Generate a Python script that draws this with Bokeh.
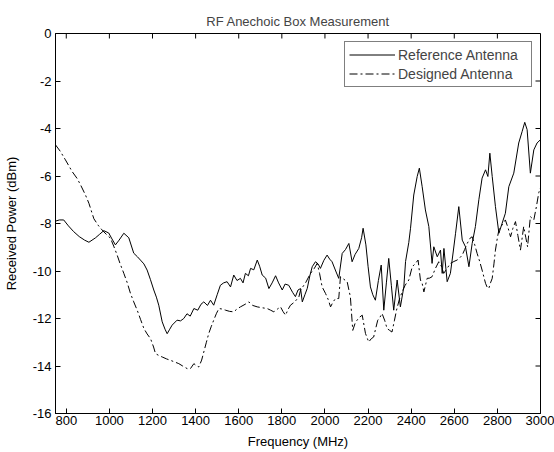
from bokeh.plotting import figure
from bokeh.models import FixedTicker, Range1d, Legend, LegendItem
from bokeh.embed import file_html
from bokeh.resources import INLINE

# ---- data ----
ref_freq = [750, 768, 788, 810, 834, 860, 885, 905, 936, 955, 974, 997, 1012, 1028, 1045,
            1067, 1090, 1113, 1130, 1144, 1160, 1175, 1190, 1206, 1218, 1229, 1245, 1258,
            1268, 1280, 1291, 1314, 1330, 1345, 1360, 1375, 1392, 1410, 1425, 1438, 1455,
            1469, 1484, 1500, 1515, 1530, 1546, 1562, 1577, 1592, 1608, 1620, 1631, 1645,
            1655, 1670, 1686, 1697, 1709, 1725, 1740, 1755, 1771, 1785, 1802, 1815, 1832,
            1850, 1863, 1875, 1887, 1895, 1907, 1918, 1930, 1941, 1956, 1968, 1979, 1995,
            2010, 2022, 2033, 2050, 2064, 2080, 2095, 2111, 2126, 2140, 2157, 2170, 2177,
            2190, 2200, 2211, 2222, 2234, 2248, 2261, 2273, 2285, 2296, 2308, 2319, 2335,
            2350, 2366, 2374, 2389, 2397, 2412, 2428, 2438, 2451, 2466, 2482, 2497, 2505,
            2521, 2536, 2544, 2552, 2567, 2582, 2595, 2606, 2621, 2637, 2652, 2668, 2683,
            2698, 2714, 2729, 2745, 2756, 2765, 2776, 2791, 2807, 2822, 2837, 2853, 2876,
            2899, 2915, 2927, 2938, 2953, 2969, 2984, 3000]
ref_power = [-7.90, -7.85, -7.85, -8.10, -8.34, -8.55, -8.70, -8.79, -8.60, -8.45, -8.30,
             -8.40, -8.65, -8.90, -8.70, -8.41, -8.60, -9.25, -9.40, -9.54, -9.70, -9.96,
             -10.35, -10.80, -11.10, -11.44, -12.14, -12.45, -12.64, -12.45, -12.28, -12.07,
             -12.10, -12.00, -11.80, -11.90, -11.58, -11.65, -11.40, -11.30, -11.45, -11.23,
             -11.44, -11.00, -10.60, -10.50, -10.45, -10.67, -10.17, -10.40, -10.31, -10.50,
             -10.10, -10.20, -9.89, -9.95, -9.54, -9.80, -10.17, -10.30, -10.74, -10.50,
             -10.20, -10.50, -10.80, -10.55, -10.60, -10.90, -11.08, -10.80, -10.74, -11.30,
             -11.00, -10.73, -10.20, -9.82, -9.61, -9.70, -9.89, -9.55, -9.33, -9.50, -9.61,
             -10.00, -10.31, -9.26, -9.10, -8.84, -9.61, -9.30, -9.05, -8.60, -8.20, -8.90,
             -9.80, -10.67, -11.00, -11.23, -10.40, -9.75, -11.65, -10.50, -9.47, -10.60,
             -11.65, -10.38, -11.51, -10.67, -9.60, -8.80, -8.20, -6.80, -6.02, -5.67, -6.45,
             -7.43, -8.13, -9.68, -8.98, -9.40, -9.12, -10.10, -9.05, -10.45, -10.10, -9.20,
             -8.41, -7.29, -8.70, -8.98, -9.82, -8.84, -8.13, -7.00, -6.09, -5.74, -6.02,
             -5.04, -6.02, -7.29, -8.41, -7.99, -7.57, -6.45, -5.88, -4.61, -4.12, -3.74,
             -4.05, -5.88, -4.90, -4.61, -4.47]

des_freq = [750, 773, 796, 827, 850, 866, 889, 905, 928, 950, 966, 985, 1005, 1020, 1036,
            1050, 1067, 1083, 1098, 1113, 1129, 1145, 1160, 1175, 1191, 1205, 1214, 1230,
            1245, 1265, 1283, 1300, 1322, 1340, 1361, 1376, 1392, 1405, 1415, 1428, 1438,
            1450, 1461, 1472, 1484, 1496, 1508, 1522, 1539, 1558, 1577, 1592, 1608, 1630,
            1647, 1665, 1686, 1710, 1732, 1748, 1763, 1780, 1794, 1805, 1817, 1830, 1840,
            1860, 1879, 1887, 1910, 1933, 1950, 1964, 1975, 1987, 2003, 2015, 2026, 2038,
            2049, 2064, 2072, 2088, 2103, 2118, 2129, 2140, 2149, 2160, 2173, 2188, 2203,
            2215, 2226, 2236, 2245, 2255, 2265, 2278, 2288, 2300, 2311, 2322, 2332, 2345,
            2358, 2372, 2389, 2405, 2418, 2432, 2443, 2451, 2459, 2474, 2485, 2497, 2512,
            2528, 2540, 2551, 2566, 2582, 2598, 2613, 2625, 2637, 2648, 2660, 2675, 2683,
            2695, 2706, 2718, 2729, 2745, 2752, 2760, 2768, 2776, 2784, 2791, 2800, 2807,
            2822, 2837, 2850, 2861, 2872, 2884, 2895, 2907, 2915, 2922, 2932, 2940, 2947,
            2953, 2969, 2981, 2992, 3000]
des_power = [-4.69, -4.97, -5.32, -5.81, -6.10, -6.37, -6.80, -7.15, -7.80, -8.10, -8.27,
             -8.45, -8.62, -8.95, -9.33, -9.70, -10.10, -10.50, -10.95, -11.30, -11.65,
             -12.05, -12.42, -12.65, -12.85, -13.20, -13.48, -13.56, -13.62, -13.70, -13.76,
             -13.82, -13.90, -14.00, -14.11, -14.11, -13.90, -14.00, -14.04, -13.75, -13.41,
             -13.00, -12.63, -12.35, -12.07, -11.80, -11.58, -11.60, -11.65, -11.70, -11.72,
             -11.60, -11.51, -11.40, -11.30, -11.45, -11.51, -11.55, -11.58, -11.65, -11.72,
             -11.60, -11.51, -11.70, -11.86, -11.60, -11.44, -11.30, -11.09, -10.80, -10.50,
             -10.10, -9.90, -9.68, -10.10, -10.67, -10.95, -11.20, -11.51, -11.30, -11.16,
             -11.16, -10.24, -10.35, -10.45, -11.09, -12.50, -12.20, -12.07, -11.95, -11.86,
             -12.63, -12.99, -12.85, -12.78, -12.40, -12.07, -11.95, -11.79, -12.10, -12.42,
             -12.50, -12.57, -12.10, -11.65, -11.20, -10.88, -10.60, -10.38, -9.82, -9.70,
             -9.54, -10.38, -10.52, -10.88, -10.31, -10.30, -10.24, -9.90, -9.61, -9.80,
             -10.10, -9.90, -9.68, -9.60, -9.54, -9.45, -9.33, -9.10, -8.84, -8.60, -8.56,
             -8.90, -9.26, -9.60, -9.96, -10.52, -10.67, -10.74, -10.50, -10.31, -9.70,
             -9.12, -8.60, -8.27, -8.06, -7.85, -8.20, -8.56, -8.20, -7.92, -8.50, -9.12,
             -8.60, -8.13, -8.60, -8.98, -8.30, -7.71, -7.85, -7.29, -6.70, -6.50]

x_ticks = [800, 1000, 1200, 1400, 1600, 1800, 2000, 2200, 2400, 2600, 2800, 3000]
y_ticks = [-16, -14, -12, -10, -8, -6, -4, -2, 0]
x_tick_labels = {t: str(t) for t in x_ticks}
y_tick_labels = {t: str(t) for t in y_ticks}

title_text = "RF Anechoic Box Measurement"
x_label = "Frequency (MHz)"
y_label = "Received Power (dBm)"
series_names = ["Reference Antenna", "Designed Antenna"]

X_MIN, X_MAX = 750, 3000
Y_MIN, Y_MAX = -16, 0

FONT = "Liberation Sans"
W, H = 554, 452
BL, BR, BT, BB = 55, 14, 33, 39
TICK_PX = 5

p = figure(width=W, height=H, output_backend="svg", toolbar_location=None,
           x_range=Range1d(X_MIN, X_MAX), y_range=Range1d(Y_MIN, Y_MAX),
           min_border_left=BL, min_border_right=BR, min_border_top=BT, min_border_bottom=BB,
           title=title_text)
p.title.text_font = FONT
p.title.text_font_size = "13px"
p.title.text_font_style = "normal"
p.title.align = "center"
p.title.standoff = 10
p.title.offset = 0

p.grid.visible = False
p.outline_line_color = "black"
p.outline_line_width = 1
p.background_fill_color = "white"
p.border_fill_color = "white"

for ax in (p.xaxis[0], p.yaxis[0]):
    ax.major_tick_in = TICK_PX
    ax.major_tick_out = 0
    ax.minor_tick_line_color = None
    ax.axis_line_color = "black"
    ax.major_tick_line_color = "black"
    ax.major_label_text_font = FONT
    ax.major_label_text_font_size = "13px"
    ax.major_label_text_color = "black"
    ax.axis_label_text_font = FONT
    ax.axis_label_text_font_size = "13px"
    ax.axis_label_text_font_style = "normal"
    ax.axis_label_text_color = "black"

p.xaxis[0].ticker = FixedTicker(ticks=x_ticks)
p.yaxis[0].ticker = FixedTicker(ticks=y_ticks)
p.xaxis[0].major_label_overrides = x_tick_labels
p.yaxis[0].major_label_overrides = y_tick_labels
p.xaxis[0].axis_label = x_label
p.yaxis[0].axis_label = y_label
p.xaxis[0].major_label_standoff = 2
p.xaxis[0].axis_label_standoff = 6
p.yaxis[0].major_label_standoff = 4
p.yaxis[0].axis_label_standoff = 11

# mirrored inward ticks on the top and right edges (MATLAB "box on")
frame_w = W - BL - BR
frame_h = H - BT - BB
dy = (Y_MAX - Y_MIN) * TICK_PX / frame_h
dx = (X_MAX - X_MIN) * TICK_PX / frame_w
p.segment(x0=x_ticks, y0=[Y_MAX] * len(x_ticks), x1=x_ticks, y1=[Y_MAX - dy] * len(x_ticks),
          line_color="black", line_width=1)
p.segment(x0=[X_MAX] * len(y_ticks), y0=y_ticks, x1=[X_MAX - dx] * len(y_ticks), y1=y_ticks,
          line_color="black", line_width=1)

r1 = p.line(ref_freq, ref_power, line_color="black", line_width=1)
r2 = p.line(des_freq, des_power, line_color="black", line_width=1, line_dash="8 3 2 3")

legend = Legend(items=[LegendItem(label=series_names[0], renderers=[r1]),
                       LegendItem(label=series_names[1], renderers=[r2])],
                location="top_right", margin=8, padding=4, spacing=2,
                glyph_width=46, glyph_height=17, label_height=17, label_width=129,
                label_standoff=3,
                label_text_font=FONT, label_text_font_size="14px",
                border_line_color="black", border_line_width=1,
                background_fill_color="white", background_fill_alpha=1)
p.add_layout(legend, "center")

open("out.html", "w").write(file_html(p, INLINE))
